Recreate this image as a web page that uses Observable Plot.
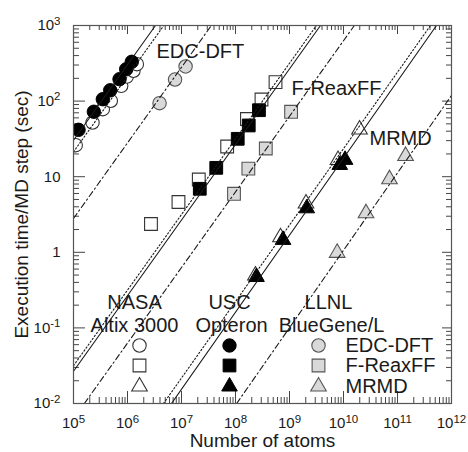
<!DOCTYPE html>
<html>
<head>
<meta charset="utf-8">
<script src="https://cdn.jsdelivr.net/npm/d3@7"></script>
<script src="https://cdn.jsdelivr.net/npm/@observablehq/plot@0.6"></script>
<style>
  html, body { margin: 0; padding: 0; background: #fff; }
  svg { display: block; }
</style>
</head>
<body>
<div id="chart"></div>
<script>
// ---------- axis ticks & labels ----------
const xTicks = [1e5, 1e6, 1e7, 1e8, 1e9, 1e10, 1e11, 1e12];
const xTickLabels = ["10^5", "10^6", "10^7", "10^8", "10^9", "10^10", "10^11", "10^12"];
const yTicks = [1e-2, 1e-1, 1, 10, 1e2, 1e3];
const yTickLabels = ["10^-2", "10^-1", "1", "10", "10^2", "10^3"];
const xLabel = "Number of atoms";
const yLabel = "Execution time/MD step (sec)";

// ---------- data: EDC-DFT ----------
const edcNasaN = [1.10e5, 2.25e5, 3.49e5, 4.91e5, 7.64e5, 9.7e5, 1.29e6, 1.49e6];
const edcNasaT = [26.1, 52.1, 78.2, 101, 159, 211, 252, 308];
const edcUscN = [1.24e5, 2.38e5, 3.49e5, 4.79e5, 7.12e5, 9.46e5, 1.20e6];
const edcUscT = [41.7, 72.3, 106, 139, 195, 264, 331];
const edcLlnlN = [3.92e6, 7.59e6, 1.19e7];
const edcLlnlT = [93.8, 193, 287];

// ---------- data: F-ReaxFF ----------
const reaxNasaN = [2.72e6, 8.79e6, 2.09e7, 7.01e7, 1.63e8, 3.03e8, 5.51e8];
const reaxNasaT = [2.37, 4.63, 9.18, 25.1, 57.9, 105, 178];
const reaxUscN = [2.18e7, 4.40e7, 1.10e8, 1.76e8, 2.72e8];
const reaxUscT = [6.92, 13.1, 31.7, 47.6, 75.8];
const reaxLlnlN = [9.38e7, 1.73e8, 3.64e8, 1.07e9];
const reaxLlnlT = [5.94, 12.8, 23.6, 72.2];

// ---------- data: MRMD ----------
const mrmdNasaN = [2.34e8, 6.81e8, 2.02e9, 7.91e9, 1.98e10];
const mrmdNasaT = [0.493, 1.58, 4.42, 16.6, 42.1];
const mrmdUscN = [2.45e8, 7.59e8, 2.09e9, 8.53e9, 1.07e10];
const mrmdUscT = [0.471, 1.46, 3.82, 14.3, 16.7];
const mrmdLlnlN = [7.64e9, 2.61e10, 7.11e10, 1.41e11];
const mrmdLlnlT = [0.984, 3.29, 9.27, 18.8];

// ---------- linear-scaling reference lines (endpoints [atoms, sec]) ----------
const edcUscLine  = [[1e5, 30.3], [3.3e6, 1000]];
const edcNasaLine = [[1e5, 21.3], [4.7e6, 1000]];
const edcLlnlLine = [[1e5, 2.8], [3.57e7, 1000]];
const reaxUscLine  = [[1e5, 0.0267], [3.75e9, 1000]];
const reaxNasaLine = [[1e5, 0.0316], [3.16e9, 1000]];
const reaxLlnlLine = [[1.59e5, 0.01], [1.59e10, 1000]];
const mrmdUscLine  = [[6.53e6, 0.01], [5.27e11, 1000]];
const mrmdNasaLine = [[4.64e6, 0.01], [4.08e11, 1000]];
const mrmdLlnlLine = [[1.05e8, 0.01], [1e12, 118.6]];

// ---------- legend ----------
const methods = ["EDC-DFT", "F-ReaxFF", "MRMD"];
const sites = ["NASA", "USC", "LLNL"];
const machines = ["Altix 3000", "Opteron", "BlueGene/L"];

// ---------- styles ----------
const W = 468, H = 452;
const mL = 73, mR = 17, mT = 25, mB = 49;
const FW = W - mL - mR, FH = H - mT - mB;
const ink = "#1a1a1a";
const font = "'Liberation Sans', Arial, Helvetica, sans-serif";
const symbolOf = {"EDC-DFT": "circle", "F-ReaxFF": "square", "MRMD": "triangle"};
const rOf = {"EDC-DFT": 6.7, "F-ReaxFF": 7.2, "MRMD": 5.8};
const siteStyle = {
  NASA: {fill: "white", stroke: "#333", strokeWidth: 1.1},
  USC:  {fill: "#000", stroke: "#000", strokeWidth: 1},
  LLNL: {fill: "#d9d9d9", stroke: "#555", strokeWidth: 1.1}
};
const siteDash = {NASA: "1.4,2.2", USC: null, LLNL: "6,3,1.5,3"};

const pts = (N, T) => N.map((n, i) => ({n, t: T[i]}));
const dots = (N, T, method, site) => Plot.dot(pts(N, T), {
  x: "n", y: "t", symbol: () => symbolOf[method], r: rOf[method],
  ...siteStyle[site], clip: true
});
const line = (L, site) => Plot.line(L, {
  x: d => d[0], y: d => d[1], stroke: ink, strokeWidth: 1.1,
  strokeDasharray: siteDash[site], clip: true
});

const minorOf = (ticks) => {
  const out = [];
  for (let i = 0; i < ticks.length - 1; i++)
    for (let m = 2; m <= 9; m++) out.push(ticks[i] * m);
  return out;
};
const xMinor = minorOf(xTicks), yMinor = minorOf(yTicks);
const tickStroke = "#444";

// legend layout (pixels relative to the frame's top-left)
const colSymDx = [66, 156, 245];
const colHeadDx = [61, 156, 255];
const headDx2 = [61, 158, 258];
const rowDy = [320, 340, 361];

const legendMarks = [];
sites.forEach((s, c) => {
  legendMarks.push(Plot.text([s], {frameAnchor: "top-left", dx: colHeadDx[c], dy: 277,
    text: d => d, textAnchor: "middle", lineAnchor: "middle", fontSize: 20, fill: ink}));
  legendMarks.push(Plot.text([machines[c]], {frameAnchor: "top-left", dx: headDx2[c], dy: 300,
    text: d => d, textAnchor: "middle", lineAnchor: "middle", fontSize: 20, fill: ink}));
  methods.forEach((m, r) => {
    legendMarks.push(Plot.dot([m], {frameAnchor: "top-left", dx: colSymDx[c], dy: rowDy[r],
      symbol: () => symbolOf[m], r: rOf[m], ...siteStyle[s]}));
  });
});
methods.forEach((m, r) => {
  legendMarks.push(Plot.text([m], {frameAnchor: "top-left", dx: 272, dy: rowDy[r],
    text: d => d, textAnchor: "start", lineAnchor: "middle", fontSize: 20, fill: ink}));
});

const chart = Plot.plot({
  width: W, height: H,
  marginLeft: mL, marginRight: mR, marginTop: mT, marginBottom: mB,
  x: {type: "log", domain: [1e5, 1e12]},
  y: {type: "log", domain: [1e-2, 1e3]},
  style: {fontFamily: font, background: "white", color: ink},
  marks: [
    // ticks (inward, on all four sides)
    Plot.ruleX(xTicks, {x: d => d, insetTop: FH - 12, stroke: tickStroke, strokeWidth: 1}),
    Plot.ruleX(xMinor, {x: d => d, insetTop: FH - 6, stroke: tickStroke, strokeWidth: 1}),
    Plot.ruleX(xTicks, {x: d => d, insetBottom: FH - 9, stroke: tickStroke, strokeWidth: 1}),
    Plot.ruleX(xMinor, {x: d => d, insetBottom: FH - 5, stroke: tickStroke, strokeWidth: 1}),
    Plot.ruleY(yTicks, {y: d => d, insetRight: FW - 12, stroke: tickStroke, strokeWidth: 1}),
    Plot.ruleY(yMinor, {y: d => d, insetRight: FW - 6, stroke: tickStroke, strokeWidth: 1}),
    Plot.ruleY(yTicks, {y: d => d, insetLeft: FW - 9, stroke: tickStroke, strokeWidth: 1}),
    Plot.ruleY(yMinor, {y: d => d, insetLeft: FW - 5, stroke: tickStroke, strokeWidth: 1}),
    // axis tick labels
    Plot.axisX(xTicks, {tickSize: 0, tickPadding: 14, fontSize: 15, label: null,
      tickFormat: d => xTickLabels[xTicks.indexOf(d)]}),
    Plot.axisY(yTicks, {tickSize: 0, tickPadding: 13, fontSize: 15, label: null,
      tickFormat: d => yTickLabels[yTicks.indexOf(d)]}),
    // data points
    dots(edcLlnlN, edcLlnlT, "EDC-DFT", "LLNL"),
    dots(reaxLlnlN, reaxLlnlT, "F-ReaxFF", "LLNL"),
    dots(mrmdLlnlN, mrmdLlnlT, "MRMD", "LLNL"),
    dots(edcNasaN, edcNasaT, "EDC-DFT", "NASA"),
    dots(reaxNasaN, reaxNasaT, "F-ReaxFF", "NASA"),
    dots(mrmdNasaN, mrmdNasaT, "MRMD", "NASA"),
    dots(edcUscN, edcUscT, "EDC-DFT", "USC"),
    dots(reaxUscN, reaxUscT, "F-ReaxFF", "USC"),
    dots(mrmdUscN, mrmdUscT, "MRMD", "USC"),
    // scaling lines
    line(edcUscLine, "USC"), line(edcNasaLine, "NASA"), line(edcLlnlLine, "LLNL"),
    line(reaxUscLine, "USC"), line(reaxNasaLine, "NASA"), line(reaxLlnlLine, "LLNL"),
    line(mrmdUscLine, "USC"), line(mrmdNasaLine, "NASA"), line(mrmdLlnlLine, "LLNL"),
    // in-plot method labels
    Plot.text([methods[0]], {frameAnchor: "top-left", dx: 83, dy: 26, text: d => d,
      textAnchor: "start", lineAnchor: "middle", fontSize: 20, fill: ink}),
    Plot.text([methods[1]], {frameAnchor: "top-left", dx: 218, dy: 63, text: d => d,
      textAnchor: "start", lineAnchor: "middle", fontSize: 20, fill: ink}),
    Plot.text([methods[2]], {frameAnchor: "top-left", dx: 296, dy: 113, text: d => d,
      textAnchor: "start", lineAnchor: "middle", fontSize: 20, fill: ink}),
    ...legendMarks,
    // axis titles
    Plot.text([xLabel], {frameAnchor: "bottom", dy: 37, text: d => d,
      textAnchor: "middle", lineAnchor: "middle", fontSize: 19, fill: ink}),
    Plot.text([yLabel], {frameAnchor: "left", dx: -52, rotate: -90, text: d => d,
      textAnchor: "middle", lineAnchor: "middle", fontSize: 19, fill: ink}),
    Plot.frame({stroke: "#555", strokeWidth: 1.2})
  ]
});

// superscript exponents in tick labels
const NS = "http://www.w3.org/2000/svg";
chart.querySelectorAll("text").forEach(t => {
  const s = t.textContent;
  if (t.children.length === 0 && s.includes("^")) {
    const [base, exp] = s.split("^");
    t.textContent = base;
    const ts = document.createElementNS(NS, "tspan");
    ts.setAttribute("dy", "-5.5");
    ts.setAttribute("font-size", "11.5");
    ts.textContent = exp;
    t.appendChild(ts);
  }
});

document.getElementById("chart").appendChild(chart);
</script>
</body>
</html>
